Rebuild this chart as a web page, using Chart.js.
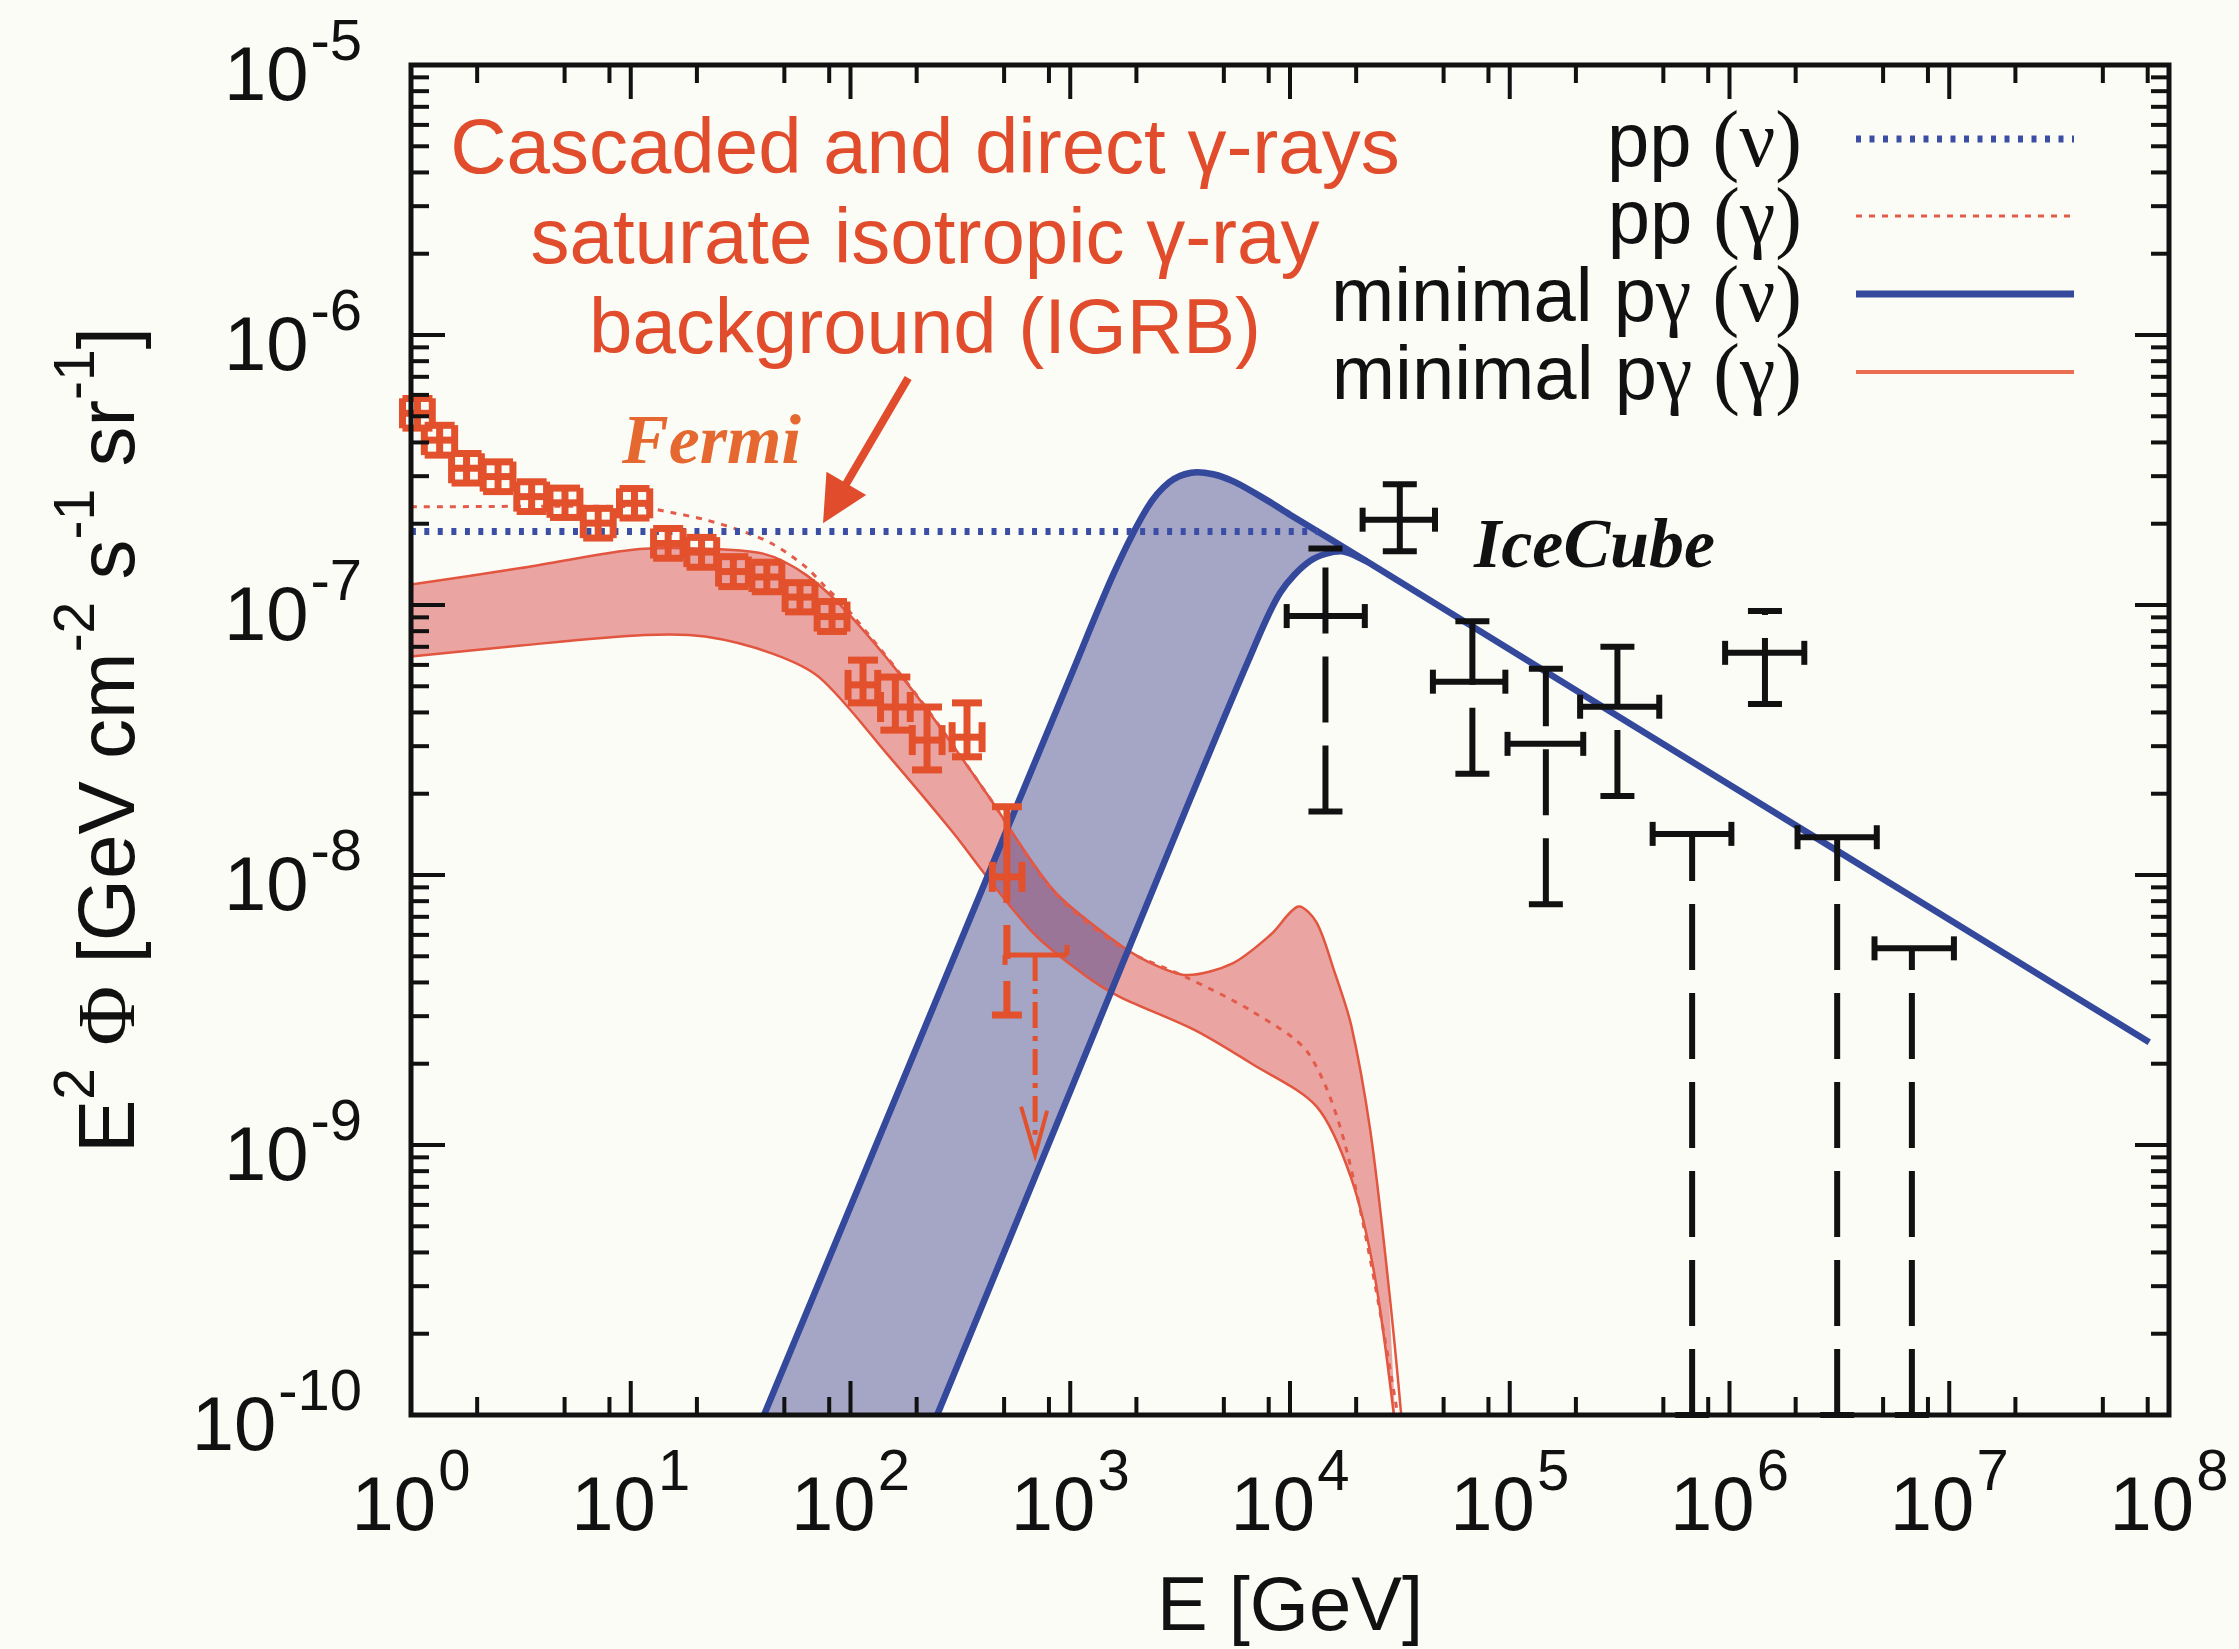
<!DOCTYPE html>
<html>
<head>
<meta charset="utf-8">
<script src="https://cdn.jsdelivr.net/npm/chart.js@4.4.0/dist/chart.umd.min.js"></script>
<style>
  html, body { margin: 0; padding: 0; background: #fcfcf6; }
  canvas { display: block; }
</style>
</head>
<body>
<canvas id="chart" width="2239" height="1649" style="width:2239px;height:1649px"></canvas>
<script>
// E [GeV] and E^2 Phi [GeV cm^-2 s^-1 sr^-1] along each model curve

// minimal p-gamma (gamma): band edges
const redUpperE = [1, 3.16, 10, 20, 40, 63, 100, 207, 417, 838, 1570, 2240, 3390, 5480, 8200, 10900, 13200, 15800, 19000, 23200, 27500, 32000, 33100];
const redUpperF = [1.19e-7, 1.37e-7, 1.6e-7, 1.62e-7, 1.55e-7, 1.29e-7, 9.12e-8, 4.45e-8, 2.0e-8, 8.79e-9, 5.74e-9, 4.79e-9, 4.26e-9, 4.71e-9, 6.03e-9, 7.64e-9, 6.67e-9, 4.47e-9, 2.77e-9, 1.13e-9, 3.55e-10, 1.02e-10, 6.3e-11];
const redLowerE = [1, 3.16, 11.6, 21.8, 43.8, 72.6, 146, 294, 417, 703, 1190, 1680, 3670, 6700, 13200, 19000, 24200, 29600, 30900];
const redLowerF = [6.44e-8, 7.08e-8, 7.74e-8, 7.64e-8, 6.62e-8, 5.37e-8, 2.82e-8, 1.43e-8, 9.86e-9, 5.92e-9, 4.2e-9, 3.54e-9, 2.67e-9, 2.0e-9, 1.39e-9, 7.52e-10, 3.33e-10, 1.02e-10, 6.3e-11];

// pp (gamma)
const ppGammaE = [1, 10.7, 15.3, 21.8, 30.8, 43.8, 62.1, 76.6, 97.7, 207, 417, 838, 1680, 3390, 6700, 12200, 18300, 30800, 31600];
const ppGammaF = [2.31e-7, 2.31e-7, 2.2e-7, 2.07e-7, 1.9e-7, 1.69e-7, 1.39e-7, 1.17e-7, 9.57e-8, 4.47e-8, 2.0e-8, 8.71e-9, 5.43e-9, 4.17e-9, 3.13e-9, 2.17e-9, 9.23e-10, 1.02e-10, 6.3e-11];

// minimal p-gamma (nu): band edges
const blueUpperE = [35.5, 40.4, 316, 1000, 1585, 2240, 2820, 3550, 4470, 5620, 7940, 10000, 22400, 1e5, 1e6, 1e7, 8.13e7];
const blueUpperF = [7.8e-11, 1e-10, 5.65e-9, 5.4e-8, 1.32e-7, 2.29e-7, 2.85e-7, 3.09e-7, 3.05e-7, 2.85e-7, 2.43e-7, 2.16e-7, 1.45e-7, 6.84e-8, 2.16e-8, 6.84e-9, 2.4e-9];
const blueLowerE = [214, 248, 1000, 3160, 6580, 9020, 12400, 17100, 22400];
const blueLowerF = [7.4e-11, 1e-10, 1.58e-9, 1.55e-8, 6.43e-8, 1.11e-7, 1.46e-7, 1.58e-7, 1.45e-7];

// pp (nu)
const ppNuE = [1, 13500];
const ppNuF = [1.87e-7, 1.87e-7];

// Fermi IGRB
const fermiE   = [1.07, 1.35, 1.79, 2.49, 3.54, 5.02, 7.11, 10.4, 14.8, 21.0, 29.3, 41.6, 58.9, 82.4, 114, 160, 223, 339, 515];
const fermiELo = [0.915, 1.15, 1.53, 2.13, 3.03, 4.29, 6.08, 8.89, 12.7, 18.0, 25.1, 35.6, 50.4, 70.5, 97.5, 137, 191, 290, 442];
const fermiEHi = [1.25, 1.58, 2.09, 2.91, 4.14, 5.87, 8.32, 12.2, 17.3, 24.6, 34.3, 48.7, 68.9, 96.4, 133, 187, 261, 397, 603];
const fermiF   = [5.13e-7, 4.08e-7, 3.21e-7, 2.99e-7, 2.52e-7, 2.39e-7, 2.01e-7, 2.38e-7, 1.69e-7, 1.57e-7, 1.33e-7, 1.27e-7, 1.07e-7, 9.06e-8, 5.06e-8, 4.19e-8, 3.16e-8, 3.24e-8, 9.84e-9];
const fermiFLo = [4.52e-7, 3.59e-7, 2.83e-7, 2.63e-7, 2.22e-7, 2.11e-7, 1.77e-7, 2.10e-7, 1.49e-7, 1.38e-7, 1.17e-7, 1.12e-7, 9.43e-8, 7.98e-8, 4.34e-8, 3.44e-8, 2.45e-8, 2.74e-8, 3.03e-9];
const fermiFHi = [5.82e-7, 4.63e-7, 3.64e-7, 3.39e-7, 2.86e-7, 2.71e-7, 2.28e-7, 2.70e-7, 1.92e-7, 1.78e-7, 1.51e-7, 1.44e-7, 1.21e-7, 1.03e-7, 6.25e-8, 5.41e-8, 4.19e-8, 4.34e-8, 1.79e-8];
const fermiDashedLower = [18];
const fermiUlE = 692, fermiUlELo = 505, fermiUlEHi = 966, fermiUlF = 5.06e-9, fermiUlTo = 9.2e-10;

// IceCube
const icE   = [1.45e4, 3.16e4, 6.76e4, 1.46e5, 3.09e5, 1.45e6];
const icELo = [9.66e3, 2.14e4, 4.47e4, 9.77e4, 2.09e5, 9.55e5];
const icEHi = [2.19e4, 4.57e4, 9.55e4, 2.16e5, 4.79e5, 2.19e6];
const icF   = [9.1e-8, 2.07e-7, 5.2e-8, 3.06e-8, 4.2e-8, 6.65e-8];
const icFLo = [1.72e-8, 1.58e-7, 2.37e-8, 7.8e-9, 1.96e-8, 4.3e-8];
const icFHi = [1.62e-7, 2.8e-7, 8.7e-8, 5.8e-8, 7.0e-8, 9.5e-8];
const icUlE   = [6.76e5, 3.09e6, 6.76e6];
const icUlELo = [4.47e5, 2.04e6, 4.57e6];
const icUlEHi = [1.02e6, 4.68e6, 1.05e7];
const icUlF   = [1.42e-8, 1.38e-8, 5.35e-9];

// axes
const xMajor = [1, 1e1, 1e2, 1e3, 1e4, 1e5, 1e6, 1e7, 1e8];
const xExp = ['0', '1', '2', '3', '4', '5', '6', '7', '8'];
const xMinorMult = [2, 5, 8];
const yMajor = [1e-5, 1e-6, 1e-7, 1e-8, 1e-9, 1e-10];
const yExp = ['-5', '-6', '-7', '-8', '-9', '-10'];
const yMinorMult = [2, 3, 4, 5, 6, 7, 8, 9];

const legendNames = ['pp (ν)', 'pp (γ)', 'minimal pγ (ν)', 'minimal pγ (γ)'];
const noteLines = ['Cascaded and direct γ-rays', 'saturate isotropic γ-ray', 'background (IGRB)'];
// arrow from the note down to the IGRB data (tail, tip)
const arrowE = [183, 75];
const arrowF = [6.93e-7, 2.01e-7];

const SANS = '"Liberation Sans", Arial, Helvetica, sans-serif';
const SERIF = '"Liberation Serif", "Times New Roman", serif';
const RED = '#e04c2c';

const pts = (xs, ys) => xs.map((x, i) => ({x: x, y: ys[i]}));
function band(ue, uf, le, lf) {
  const end = le[le.length - 1];
  const top = pts(ue, uf).filter(p => p.x <= end);
  return top.concat(pts(le, lf).reverse());
}

function seg(ctx, x1, y1, x2, y2) {
  ctx.beginPath();
  ctx.moveTo(x1, y1);
  ctx.lineTo(x2, y2);
  ctx.stroke();
}

function drawMarks(chart) {
  const ctx = chart.ctx;
  const X = v => chart.scales.x.getPixelForValue(v);
  const Y = v => chart.scales.y.getPixelForValue(v);
  ctx.save();
  ctx.lineCap = 'butt';

  // Fermi points: x/y error bars with caps
  ctx.strokeStyle = '#e2502c';
  ctx.lineWidth = 7;
  fermiE.forEach((e, i) => {
    const x = X(e), y = Y(fermiF[i]);
    const xl = X(fermiELo[i]), xr = X(fermiEHi[i]);
    const yt = Y(fermiFHi[i]), yb = Y(fermiFLo[i]);
    seg(ctx, xl, y, xr, y);
    seg(ctx, xl, y - 15, xl, y + 15);
    seg(ctx, xr, y - 15, xr, y + 15);
    if (fermiDashedLower.includes(i)) {
      seg(ctx, x, yt, x, y);
      ctx.setLineDash([34, 22]);
      seg(ctx, x, yb, x, y);
      ctx.setLineDash([]);
    } else {
      seg(ctx, x, yt, x, yb);
    }
    seg(ctx, x - 15, yt, x + 15, yt);
    seg(ctx, x - 15, yb, x + 15, yb);
  });

  // Fermi upper limit
  {
    const x = X(fermiUlE), y = Y(fermiUlF), tip = Y(fermiUlTo);
    ctx.lineWidth = 5;
    seg(ctx, X(fermiUlELo), y, X(fermiUlEHi), y);
    seg(ctx, X(fermiUlELo), y, X(fermiUlELo), y + 10);
    seg(ctx, X(fermiUlEHi), y, X(fermiUlEHi), y - 10);
    ctx.setLineDash([26, 8, 5, 8]);
    seg(ctx, x, y, x, tip - 20);
    ctx.setLineDash([]);
    ctx.lineWidth = 4;
    ctx.beginPath();
    ctx.moveTo(x - 14, tip - 48);
    ctx.lineTo(x, tip);
    ctx.lineTo(x + 12, tip - 44);
    ctx.stroke();
  }

  // IceCube points
  ctx.strokeStyle = '#111';
  ctx.lineWidth = 6;
  icE.forEach((e, i) => {
    const x = X(e), y = Y(icF[i]);
    const xl = X(icELo[i]), xr = X(icEHi[i]);
    const yt = Y(icFHi[i]), yb = Y(icFLo[i]);
    seg(ctx, xl, y, xr, y);
    seg(ctx, xl, y - 12, xl, y + 12);
    seg(ctx, xr, y - 12, xr, y + 12);
    ctx.setLineDash([66, 23]);
    seg(ctx, x, yb, x, yt);
    ctx.setLineDash([]);
    seg(ctx, x - 17, yt, x + 17, yt);
    seg(ctx, x - 17, yb, x + 17, yb);
  });

  // IceCube upper limits
  const bottom = chart.chartArea.bottom;
  icUlE.forEach((e, i) => {
    const x = X(e), y = Y(icUlF[i]);
    const xl = X(icUlELo[i]), xr = X(icUlEHi[i]);
    seg(ctx, xl, y, xr, y);
    seg(ctx, xl, y - 12, xl, y + 12);
    seg(ctx, xr, y - 12, xr, y + 12);
    ctx.setLineDash([66, 23]);
    seg(ctx, x, bottom, x, y);
    ctx.setLineDash([]);
    seg(ctx, x - 17, bottom, x + 17, bottom);
  });

  // arrow pointing at the IGRB
  {
    const x1 = X(arrowE[0]), y1 = Y(arrowF[0]), x2 = X(arrowE[1]), y2 = Y(arrowF[1]);
    const len = Math.hypot(x2 - x1, y2 - y1);
    const ux = (x2 - x1) / len, uy = (y2 - y1) / len;
    const bx = x2 - ux * 46, by = y2 - uy * 46;
    ctx.strokeStyle = RED;
    ctx.fillStyle = RED;
    ctx.lineWidth = 8;
    seg(ctx, x1, y1, bx + ux * 4, by + uy * 4);
    ctx.beginPath();
    ctx.moveTo(x2, y2);
    ctx.lineTo(bx - uy * 23, by + ux * 23);
    ctx.lineTo(bx + uy * 23, by - ux * 23);
    ctx.closePath();
    ctx.fill();
  }
  ctx.restore();
}

function powLabel(ctx, exp, x, base, align) {
  ctx.font = '76px ' + SANS;
  const w1 = ctx.measureText('10').width;
  ctx.font = '58px ' + SANS;
  const w2 = ctx.measureText(exp).width;
  const left = align === 'right' ? x - w1 - w2 - 2 : x - (w1 + w2 + 2) / 2;
  ctx.font = '76px ' + SANS;
  ctx.fillText('10', left, base);
  ctx.font = '58px ' + SANS;
  ctx.fillText(exp, left + w1 + 2, base - 40);
}

// text where Greek letters and brackets use the serif face
function mixedParts(text, size) {
  const parts = [];
  for (const ch of text) {
    const serif = /[γνΦ()]/.test(ch);
    const font = serif ? (size + 4) + 'px ' + SERIF : size + 'px ' + SANS;
    const last = parts[parts.length - 1];
    if (last && last.font === font) last.t += ch; else parts.push({t: ch, font: font});
  }
  return parts;
}

function drawParts(ctx, parts, x, y, align) {
  let total = 0;
  parts.forEach(p => { ctx.font = p.font; p.w = ctx.measureText(p.t).width; total += p.w; });
  let cx = align === 'right' ? x - total : align === 'center' ? x - total / 2 : x;
  parts.forEach(p => {
    ctx.font = p.font;
    ctx.fillText(p.t, cx, y + (p.dy || 0));
    cx += p.w;
  });
}

function drawFrame(chart) {
  const ctx = chart.ctx, a = chart.chartArea;
  const X = v => chart.scales.x.getPixelForValue(v);
  const Y = v => chart.scales.y.getPixelForValue(v);
  ctx.save();
  ctx.strokeStyle = '#111';
  ctx.lineWidth = 4;
  ctx.lineCap = 'butt';
  xMajor.forEach((v, k) => {
    const x = X(v);
    seg(ctx, x, a.bottom, x, a.bottom - 34);
    seg(ctx, x, a.top, x, a.top + 34);
    if (k < xMajor.length - 1) {
      xMinorMult.forEach(m => {
        const xm = X(v * m);
        seg(ctx, xm, a.bottom, xm, a.bottom - 18);
        seg(ctx, xm, a.top, xm, a.top + 18);
      });
    }
  });
  yMajor.forEach((v, k) => {
    const y = Y(v);
    seg(ctx, a.left, y, a.left + 34, y);
    seg(ctx, a.right, y, a.right - 34, y);
    if (k < yMajor.length - 1) {
      yMinorMult.forEach(m => {
        const ym = Y(v / 10 * m);
        seg(ctx, a.left, ym, a.left + 18, ym);
        seg(ctx, a.right, ym, a.right - 18, ym);
      });
    }
  });
  ctx.lineWidth = 5;
  ctx.strokeRect(a.left, a.top, a.right - a.left, a.bottom - a.top);

  // tick labels
  ctx.fillStyle = '#111';
  ctx.textBaseline = 'alphabetic';
  ctx.textAlign = 'left';
  yMajor.forEach((v, k) => powLabel(ctx, yExp[k], a.left - 49, Y(v) + 35, 'right'));
  xMajor.forEach((v, k) => powLabel(ctx, xExp[k], X(v), a.bottom + 115, 'center'));

  // axis titles
  ctx.font = '76px ' + SANS;
  const xt = 'E [GeV]';
  ctx.fillText(xt, (a.left + a.right) / 2 - ctx.measureText(xt).width / 2, 1630);

  ctx.save();
  ctx.translate(134, (a.top + a.bottom) / 2);
  ctx.rotate(-Math.PI / 2);
  const big = '80px ' + SANS, small = '57px ' + SANS;
  drawParts(ctx, [
    {t: 'E', font: big}, {t: '2', font: small, dy: -40}, {t: ' ', font: big},
    {t: 'Φ', font: '82px ' + SERIF}, {t: ' [GeV cm', font: big}, {t: '-2', font: small, dy: -40},
    {t: ' s', font: big}, {t: '-1', font: small, dy: -40}, {t: ' sr', font: big},
    {t: '-1', font: small, dy: -40}, {t: ']', font: big}
  ], 0, 0, 'center');
  ctx.restore();

  // legend
  const rows = [139, 216, 294, 372];
  rows.forEach((y, i) => drawParts(ctx, mixedParts(legendNames[i], 76), 1802, y + 27, 'right'));
  const sample = (y, color, width, dash) => {
    ctx.strokeStyle = color;
    ctx.lineWidth = width;
    ctx.setLineDash(dash);
    seg(ctx, 1856, y, 2074, y);
    ctx.setLineDash([]);
  };
  sample(rows[0], '#3a4ea6', 7, [5, 8.5]);
  sample(rows[1], '#e35b4a', 3, [6, 7]);
  sample(rows[2], '#34489c', 7, []);
  sample(rows[3], '#ea6e52', 4, []);

  // annotations
  ctx.fillStyle = RED;
  ctx.font = '78px ' + SANS;
  noteLines.forEach((t, i) => {
    ctx.fillText(t, 925 - ctx.measureText(t).width / 2, 173 + i * 90);
  });
  ctx.font = 'italic bold 70px ' + SERIF;
  ctx.fillStyle = '#e4682f';
  ctx.fillText('Fermi', 622, 463);
  ctx.fillStyle = '#111';
  ctx.fillText('IceCube', 1474, 567);
  ctx.restore();
}

const decor = {
  id: 'decor',
  beforeDraw(chart) {
    const ctx = chart.ctx;
    ctx.save();
    ctx.fillStyle = '#fcfcf6';
    ctx.fillRect(0, 0, chart.width, chart.height);
    ctx.restore();
  },
  afterDatasetsDraw(chart) { drawMarks(chart); },
  afterDraw(chart) { drawFrame(chart); }
};

const curve = (label, data, color, width, dash, order) => ({
  label: label, data: data, borderColor: color, borderWidth: width, borderDash: dash,
  borderCapStyle: 'butt', fill: false, pointRadius: 0, tension: 0.3, order: order
});

new Chart(document.getElementById('chart'), {
  type: 'line',
  data: {
    datasets: [
      { label: 'band γ', data: band(redUpperE, redUpperF, redLowerE, redLowerF), fill: 'shape',
        backgroundColor: 'rgba(210,50,50,0.43)', borderColor: 'transparent', borderWidth: 0,
        pointRadius: 0, tension: 0.3, order: 9 },
      { label: 'band ν', data: band(blueUpperE, blueUpperF, blueLowerE, blueLowerF), fill: 'shape',
        backgroundColor: 'rgba(60,60,140,0.45)', borderColor: 'transparent', borderWidth: 0,
        pointRadius: 0, tension: 0.3, order: 8 },
      curve(legendNames[3], pts(redUpperE, redUpperF), '#e2553f', 2.5, [], 7),
      curve(legendNames[3], pts(redLowerE, redLowerF), '#e2553f', 2.5, [], 6),
      curve(legendNames[1], pts(ppGammaE, ppGammaF), '#e35b4a', 3, [6, 7], 5),
      curve(legendNames[2], pts(blueUpperE, blueUpperF), '#34489c', 6.5, [], 3),
      curve(legendNames[2], pts(blueLowerE, blueLowerF), '#34489c', 6.5, [], 2),
      curve(legendNames[0], pts(ppNuE, ppNuF), '#3a4ea6', 7, [5, 8.5], 1)
    ]
  },
  options: {
    responsive: false,
    animation: false,
    devicePixelRatio: 1,
    layout: { padding: { left: 411, right: 70, top: 65, bottom: 234 } },
    scales: {
      x: { type: 'logarithmic', min: 1, max: 1e8, display: false },
      y: { type: 'logarithmic', min: 1e-10, max: 1e-5, display: false }
    },
    plugins: { legend: { display: false }, tooltip: { enabled: false } }
  },
  plugins: [decor]
});
</script>
